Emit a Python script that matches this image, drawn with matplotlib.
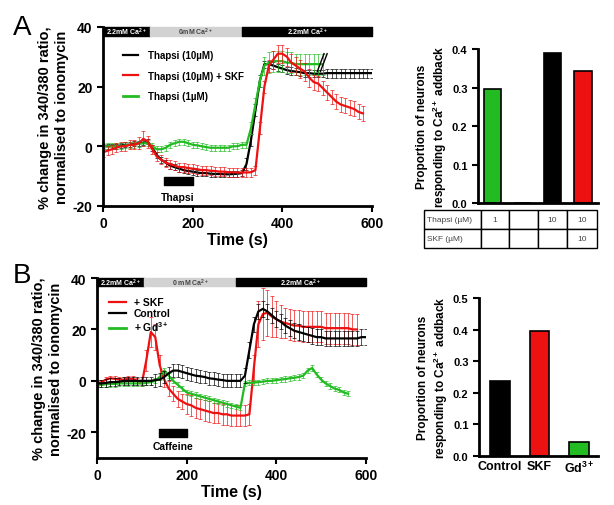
import numpy as np
import matplotlib
matplotlib.use("Agg")
import matplotlib.pyplot as plt

plt.rcParams['font.family'] = ['Liberation Sans', 'DejaVu Sans']
plt.rcParams['font.weight'] = 'bold'
plt.rcParams['axes.labelweight'] = 'bold'
plt.rcParams['axes.unicode_minus'] = False
plt.rcParams['mathtext.fontset'] = 'custom'
plt.rcParams['mathtext.rm'] = 'Liberation Sans:bold'
plt.rcParams['mathtext.bf'] = 'Liberation Sans:bold'
plt.rcParams['mathtext.it'] = 'Liberation Sans:bold:italic'
plt.rcParams['mathtext.default'] = 'rm'

RED = '#ee1111'
GREEN = '#22bb22'
BLACK = '#000000'

# sampling interval of the traces (s)
dt = 10

# ---- Panel A traces ----
black_a = [0, 0, 0, 0, 0.3, 0.5, 0.5, 0.8, 1, 1.2, 1.5,
           -0.5, -3, -4.5, -5.5, -6.5, -7, -7.5, -8, -8.3, -8.5,
           -8.8, -9, -9, -9.2, -9.3, -9.3, -9.4, -9.4, -9.3, -9.2,
           -9, -6, 2, 12, 22, 27.5, 27.5, 27, 26.5, 26,
           25.5, 25.2, 25, 24.8, 24.5, 24.5, 24.3, 24.3, 24.3,
           24.5, 24.5, 24.5, 24.5, 24.5, 24.5, 24.5, 24.5, 24.5, 24.5, 24.5]
black_a_err = [0.8, 0.8, 0.8, 0.8, 0.8, 0.8, 0.8, 0.8, 0.8, 0.8, 0.8,
               1, 1, 1, 1, 1, 1, 1, 1, 1, 1,
               1, 1, 1, 1, 1, 1, 1, 1, 1, 1,
               1, 2, 2, 2, 2, 1.2, 1.2, 1.2, 1.2, 1.2,
               1.2, 1.2, 1.2, 1.2, 1.2, 1.2, 1.2, 1.2, 1.2,
               1.5, 1.5, 1.5, 1.5, 1.5, 1.5, 1.5, 1.5, 1.5, 1.5, 1.5]

red_a = [-2, -1.5, -1, -0.5, 0, 0, 0.5, 0.5, 1, 2.5, 1.5,
         -1, -3.5, -4.5, -5.5, -6, -6.5, -7, -7, -7.3, -7.5,
         -7.7, -8, -8, -8.2, -8.3, -8.5, -8.5, -8.7, -8.7, -8.8,
         -8.8, -8.8, -8.7, -8, 6, 20, 27, 29, 31, 31,
         30, 28, 27, 26, 25, 23, 21.5, 21, 19.5, 18,
         16.5, 15, 14, 13.5, 13, 12.5, 11.5, 11]
red_a_err = [1.5, 1.5, 1.5, 1.5, 1.5, 1.5, 1.5, 1.5, 2, 2.5, 2,
             1.5, 1.5, 1.5, 1.5, 1.5, 1.5, 1.5, 1.5, 1.5, 1.5,
             1.5, 1.5, 1.5, 1.5, 1.5, 1.5, 1.5, 1.5, 1.5, 1.5,
             1.5, 1.5, 1.5, 1.5, 2, 2, 2, 3, 3, 3,
             3, 3, 3, 3, 3, 3, 2.5, 2.5, 2.5, 2.5,
             2.5, 2.5, 2.5, 2.5, 2.5, 2.5, 2.5, 2.5]

green_a = [0, 0, 0, 0, 0, 0.3, 0.5, 0.5, 0.8, 1, 1,
           0, -1, -1, -0.5, 0.5, 1, 1.5, 1.5, 1, 0.5,
           0.3, 0, -0.3, -0.5, -0.5, -0.5, -0.5, -0.5, 0, 0,
           0.5, 0.5, 6, 14, 22, 27, 28, 28.5, 28.5, 28.5,
           28, 28, 27.5, 27.5, 27.5, 27.5, 27.5, 27.5, 27.5]
green_a_err = [1, 1, 1, 1, 1, 1, 1, 1, 1, 1, 1,
               1, 1, 1, 1, 1, 1, 1, 1, 1, 1,
               1, 1, 1, 1, 1, 1, 1, 1, 1, 1,
               1, 1, 2, 2, 2, 3, 3.5, 3.5, 3.5, 3.5,
               3.5, 3.5, 3.5, 3.5, 3.5, 3.5, 3.5, 3.5, 3.5]

# ---- Panel B traces ----
red_b = [-1, -0.5, 0.5, 1, 0.8, 0.5, 0.5, 0.8, 0.8, 0, -1,
         8, 19, 17, 6, 0.5, -3, -5, -7, -8, -9,
         -9.5, -10.5, -11, -11.5, -12, -12.5, -12.5, -13, -13, -13.5,
         -13.5, -13.5, -13.5, -13, 5, 22, 26, 26.5, 25, 24,
         23, 22.5, 22, 21.5, 21.5, 21, 21, 21, 21, 21,
         20.5, 20.5, 20.5, 20.5, 20.5, 20.5, 20, 20]
red_b_err = [1, 1, 1, 1, 1, 1, 1, 1, 1, 1, 1,
             4, 6, 5, 4, 3, 3, 3, 3, 3, 4,
             4, 4, 4, 4, 4, 4, 4, 4, 4, 4,
             4, 4, 4, 4, 5, 9, 10, 9, 8, 7,
             6.5, 6, 6, 6, 6, 6, 6, 6, 6, 6,
             6, 6, 6, 6, 6, 6, 6, 6]

black_b = [-1, -1, -0.8, -0.5, -0.5, -0.3, 0, 0, 0, 0, 0, 0, 0,
           0.3, 0.5, 1.5, 3, 4, 4, 3.5, 3, 2.5, 2,
           1.8, 1.5, 1, 0.8, 0.5, 0.3, 0, 0, 0, 0,
           2, 12, 22, 27, 28, 27, 25.5, 24, 23, 21.5,
           20.5, 19.5, 19, 18.5, 18, 17.5, 17, 17,
           16.5, 16.5, 16.5, 16.5, 16.5, 16.5, 16.5, 16.5, 17, 17]
black_b_err = [1.5, 1.5, 1.5, 1.5, 1.5, 1.5, 1.5, 1.5, 1.5, 1.5, 1.5, 1.5, 1.5,
               2.5, 2.5, 2.5, 2.5, 2.5, 2.5, 2.5, 2.5, 2.5, 2.5,
               2.5, 2.5, 2.5, 2.5, 2.5, 2.5, 2.5, 2.5, 2.5, 2.5,
               3, 3, 3, 3, 3, 3, 3, 3, 3, 3,
               3, 3, 3, 3, 3, 3, 3, 3,
               3, 3, 3, 3, 3, 3, 3, 3, 3, 3]

green_b = [-1.5, -1.5, -1.3, -1.2, -1.2, -1, -1, -1, -1, -1, -1,
           -0.8, -0.5, 0, 1.5, 4, 2, 0, -1.5, -3, -4.5,
           -5, -5.5, -6, -6.5, -7, -7.5, -8, -8.5, -9, -9.5,
           -10, -10.5, -1, -0.8, -0.7, -0.5, -0.3, 0, 0, 0.3,
           0.5, 0.7, 1, 1.2, 1.5, 2, 4, 5, 2.5, 0.5,
           -1, -2, -3, -3.5, -4.5, -5]
green_b_err = [1, 1, 1, 1, 1, 1, 1, 1, 1, 1, 1,
               1, 1, 1, 1, 1, 1, 1, 1, 1, 1,
               1, 1, 1, 1, 1, 1, 1, 1, 1, 1,
               1, 1, 1, 1, 1, 1, 1, 1, 1, 1,
               1, 1, 1, 1, 1, 1, 1, 1, 1, 1,
               1, 1, 1, 1, 1, 1]

# perfusion conditions (s)
cond_edges = [0, 105, 310, 600]
cond_labels_a = ['2.2mM Ca$^{2+}$', '0mM Ca$^{2+}$', '2.2mM Ca$^{2+}$']
cond_labels_b = ['2.2mM Ca$^{2+}$', '0 mM Ca$^{2+}$', '2.2mM Ca$^{2+}$']
thapsi_on = (135, 200)
caffeine_on = (138, 200)

# ---- bar charts ----
bar_a_vals = [0.297, 0, 0.39, 0.343]
bar_a_cols = [GREEN, 'white', BLACK, RED]
table_rows = [['Thapsi (\u00b5M)', '1', '', '10', '10'],
              ['SKF (\u00b5M)', '', '', '', '10']]

bar_b_labels = ['Control', 'SKF', 'Gd$^{3+}$']
bar_b_vals = [0.237, 0.395, 0.043]
bar_b_cols = [BLACK, RED, GREEN]


def style(ax, fs):
    for s in ['top', 'right']:
        ax.spines[s].set_visible(False)
    for s in ['left', 'bottom']:
        ax.spines[s].set_linewidth(2)
    ax.tick_params(direction='out', length=4, width=1.5, labelsize=fs)
    for lab in ax.get_xticklabels() + ax.get_yticklabels():
        lab.set_fontweight('bold')


def trace(ax, y, err, color, label):
    t = np.arange(len(y)) * dt
    ax.errorbar(t, y, yerr=err, color=color, lw=0, elinewidth=0.6,
                capsize=1.5, capthick=0.6, alpha=0.8)
    ax.plot(t, y, color=color, lw=1.6, label=label)


def cond_bar(ax, labels, y0, h):
    cols = [BLACK, '#d2d2d2', BLACK]
    tcols = ['white', '#444444', 'white']
    for i in range(3):
        x0, x1 = cond_edges[i], cond_edges[i + 1]
        ax.broken_barh([(x0, x1 - x0)], (y0, h), color=cols[i], clip_on=False)
        ax.text((x0 + x1) / 2, y0 + h / 2, labels[i], color=tcols[i],
                fontsize=5, ha='center', va='center')


fig = plt.figure(figsize=(6.14, 5.06), dpi=100)

# ---------------- A line ----------------
ax = fig.add_axes([0.1678, 0.591, 0.438, 0.354])
trace(ax, black_a, black_a_err, BLACK, 'Thapsi (10\u00b5M)')
trace(ax, green_a, green_a_err, GREEN, None)
trace(ax, red_a, red_a_err, RED, 'Thapsi (10\u00b5M) + SKF')
ax.plot([], [], color=GREEN, lw=2, label='Thapsi (1\u00b5M)')
ax.plot([478, 493], [25, 31], color=BLACK, lw=1)
ax.plot([485, 500], [25, 31], color=BLACK, lw=1)
cond_bar(ax, cond_labels_a, 36.8, 3.2)
ax.broken_barh([(thapsi_on[0], thapsi_on[1] - thapsi_on[0])], (-13, 2.8), color=BLACK)
ax.text(sum(thapsi_on) / 2, -15.3, 'Thapsi', fontsize=7.5, ha='center', va='top')
ax.set_xlim(0, 600)
ax.set_ylim(-20, 40)
ax.set_xticks([0, 200, 400, 600])
ax.set_yticks([-20, 0, 20, 40])
style(ax, 10)
ax.set_xlabel('Time (s)', fontsize=11.5, labelpad=1)
ax.set_ylabel('% change in 340/380 ratio,\nnormalised to ionomycin', fontsize=10.5,
              labelpad=3)
ax.legend(loc='upper left', bbox_to_anchor=(0.04, 0.92), frameon=False, fontsize=7,
          handlelength=1.6, labelspacing=1.1, handletextpad=1.0)

# ---------------- A bars ----------------
ax = fig.add_axes([0.7785, 0.5968, 0.1954, 0.3043])
ax.bar(range(4), bar_a_vals, width=0.58, color=bar_a_cols, edgecolor=BLACK, lw=1.2)
ax.set_xlim(-0.48, 3.5)
ax.set_ylim(0, 0.4)
ax.set_yticks([0, 0.1, 0.2, 0.3, 0.4])
ax.set_yticklabels(['0.0', '0.1', '0.2', '0.3', '0.4'])
ax.set_xticks([])
style(ax, 8)
ax.set_ylabel('Proportion of neurons\nresponding to Ca$^{2+}$ addback', fontsize=8.5,
              labelpad=2)
tb = ax.table(cellText=table_rows, cellLoc='center',
              colWidths=[57, 29, 29, 29, 30],
              bbox=[-0.45, -0.29, 1.44, 0.245])
tb.auto_set_font_size(False)
for (r, c), cell in tb.get_celld().items():
    cell.set_linewidth(1.0)
    cell.get_text().set_fontsize(6)
    cell.get_text().set_fontweight('normal')
    cell.get_text().set_color('#444444')
    if c == 0:
        cell.get_text().set_ha('left')
        cell.PAD = 0.06

# ---------------- B line ----------------
ax = fig.add_axes([0.158, 0.0929, 0.438, 0.3557])
trace(ax, red_b, red_b_err, RED, '+ SKF')
trace(ax, green_b, green_b_err, GREEN, None)
trace(ax, black_b, black_b_err, BLACK, 'Control')
ax.plot([], [], color=GREEN, lw=2, label='+ Gd$^{3+}$')
cond_bar(ax, cond_labels_b, 36.9, 3.1)
ax.broken_barh([(caffeine_on[0], caffeine_on[1] - caffeine_on[0])], (-22, 3.3), color=BLACK)
ax.text(sum(caffeine_on) / 2, -23.5, 'Caffeine', fontsize=7.5, ha='center', va='top')
ax.set_xlim(0, 600)
ax.set_ylim(-30, 40)
ax.set_xticks([0, 200, 400, 600])
ax.set_yticks([-20, 0, 20, 40])
style(ax, 10)
ax.set_xlabel('Time (s)', fontsize=11.5, labelpad=1)
ax.set_ylabel('% change in 340/380 ratio,\nnormalised to ionomycin', fontsize=10.5,
              labelpad=3)
ax.legend(loc='upper left', bbox_to_anchor=(0.01, 0.945), frameon=False, fontsize=7.5,
          handlelength=1.6, labelspacing=0.1, handletextpad=0.8)

# ---------------- B bars ----------------
ax = fig.add_axes([0.780, 0.0968, 0.194, 0.312])
ax.bar(range(3), bar_b_vals, width=0.5, color=bar_b_cols, edgecolor=BLACK, lw=1.2)
ax.set_xlim(-0.53, 2.48)
ax.set_ylim(0, 0.5)
ax.set_yticks([0, 0.1, 0.2, 0.3, 0.4, 0.5])
ax.set_yticklabels(['0.0', '0.1', '0.2', '0.3', '0.4', '0.5'])
ax.set_xticks(range(3))
ax.set_xticklabels(bar_b_labels)
style(ax, 8)
ax.tick_params(axis='x', length=0, labelsize=9, pad=3)
ax.set_ylabel('Proportion of neurons\nresponding to Ca$^{2+}$ addback', fontsize=8.5,
              labelpad=2)

fig.text(0.036, 0.945, 'A', fontsize=20, fontweight='normal', va='center', ha='center')
fig.text(0.036, 0.455, 'B', fontsize=20, fontweight='normal', va='center', ha='center')

fig.savefig('out.png', dpi=100)
